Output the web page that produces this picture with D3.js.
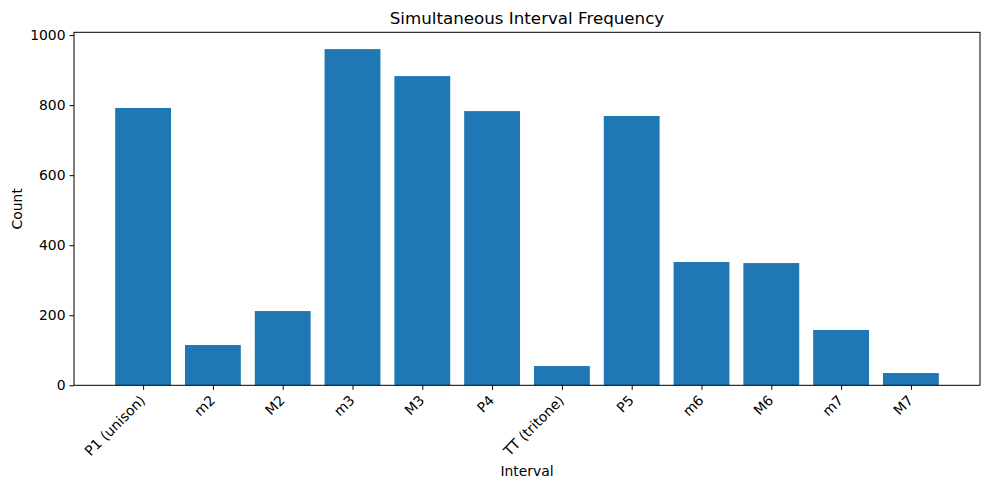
<!DOCTYPE html>
<html>
<head>
<meta charset="utf-8">
<script src="https://cdn.jsdelivr.net/npm/d3@7"></script>
<style>
  body { margin: 0; background: #fff; }
  svg text { font-family: "DejaVu Sans", sans-serif; fill: #000; }
</style>
</head>
<body>
<div id="chart"></div>
<script>
var intervals = ["P1 (unison)", "m2", "M2", "m3", "M3", "P4", "TT (tritone)", "P5", "m6", "M6", "m7", "M7"];
var counts = [792, 115, 212, 960, 883, 783, 55, 769, 352, 349, 158, 35];
var yTicks = [0, 200, 400, 600, 800, 1000];

var width = 989, height = 490;
var plot = { left: 74, right: 980, top: 32.3, bottom: 385.3 };

var svg = d3.select("#chart").append("svg")
  .attr("width", width)
  .attr("height", height);

// matplotlib style limits: bars at integer positions, width .8, 5% margins
var span = (intervals.length - 1) + 0.8;
var xMin = -0.4 - span * 0.05, xMax = intervals.length - 1 + 0.4 + span * 0.05;
var x = d3.scaleLinear().domain([xMin, xMax]).range([plot.left, plot.right]);
var y = d3.scaleLinear().domain([0, d3.max(counts) * 1.05]).range([plot.bottom, plot.top]);

svg.selectAll("rect.bar")
  .data(counts)
  .enter()
  .append("rect")
    .attr("class", "bar")
    .attr("x", function(d, i) { return x(i - 0.4); })
    .attr("width", function(d, i) { return x(i + 0.4) - x(i - 0.4); })
    .attr("y", function(d) { return y(d); })
    .attr("height", function(d) { return y(0) - y(d); })
    .attr("fill", "#1f77b4");

// y axis
var yAxis = svg.append("g")
  .attr("transform", "translate(" + plot.left + ",0)")
  .call(d3.axisLeft(y).tickValues(yTicks).tickSize(4.5).tickPadding(4).tickFormat(d3.format("d")));
yAxis.select(".domain").remove();
yAxis.selectAll("text").style("font-size", "13.9px");
yAxis.selectAll("line").attr("stroke", "#000").attr("stroke-width", 1);

// x axis ticks
var xAxis = svg.append("g")
  .attr("transform", "translate(0," + plot.bottom + ")")
  .call(d3.axisBottom(x).tickValues(d3.range(intervals.length)).tickSize(4.5).tickFormat(""));
xAxis.select(".domain").remove();
xAxis.selectAll("line").attr("stroke", "#000").attr("stroke-width", 1);

svg.selectAll("text.xlab")
  .data(intervals)
  .enter()
  .append("text")
    .attr("class", "xlab")
    .attr("transform", function(d, i) { return "translate(" + (x(i) + 3) + "," + (plot.bottom + 16) + ") rotate(-45)"; })
    .attr("text-anchor", "end")
    .style("font-size", "13.9px")
    .text(function(d) { return d; });

// frame
svg.append("rect")
  .attr("x", plot.left)
  .attr("y", plot.top)
  .attr("width", plot.right - plot.left)
  .attr("height", plot.bottom - plot.top)
  .attr("fill", "none")
  .attr("stroke", "#000")
  .attr("stroke-width", 1);

svg.append("text")
  .attr("x", (plot.left + plot.right) / 2)
  .attr("y", 24)
  .attr("text-anchor", "middle")
  .style("font-size", "16.7px")
  .text("Simultaneous Interval Frequency");

svg.append("text")
  .attr("x", (plot.left + plot.right) / 2)
  .attr("y", 476)
  .attr("text-anchor", "middle")
  .style("font-size", "13.9px")
  .text("Interval");

svg.append("text")
  .attr("transform", "translate(22," + ((plot.top + plot.bottom) / 2) + ") rotate(-90)")
  .attr("text-anchor", "middle")
  .style("font-size", "13.9px")
  .text("Count");
</script>
</body>
</html>
